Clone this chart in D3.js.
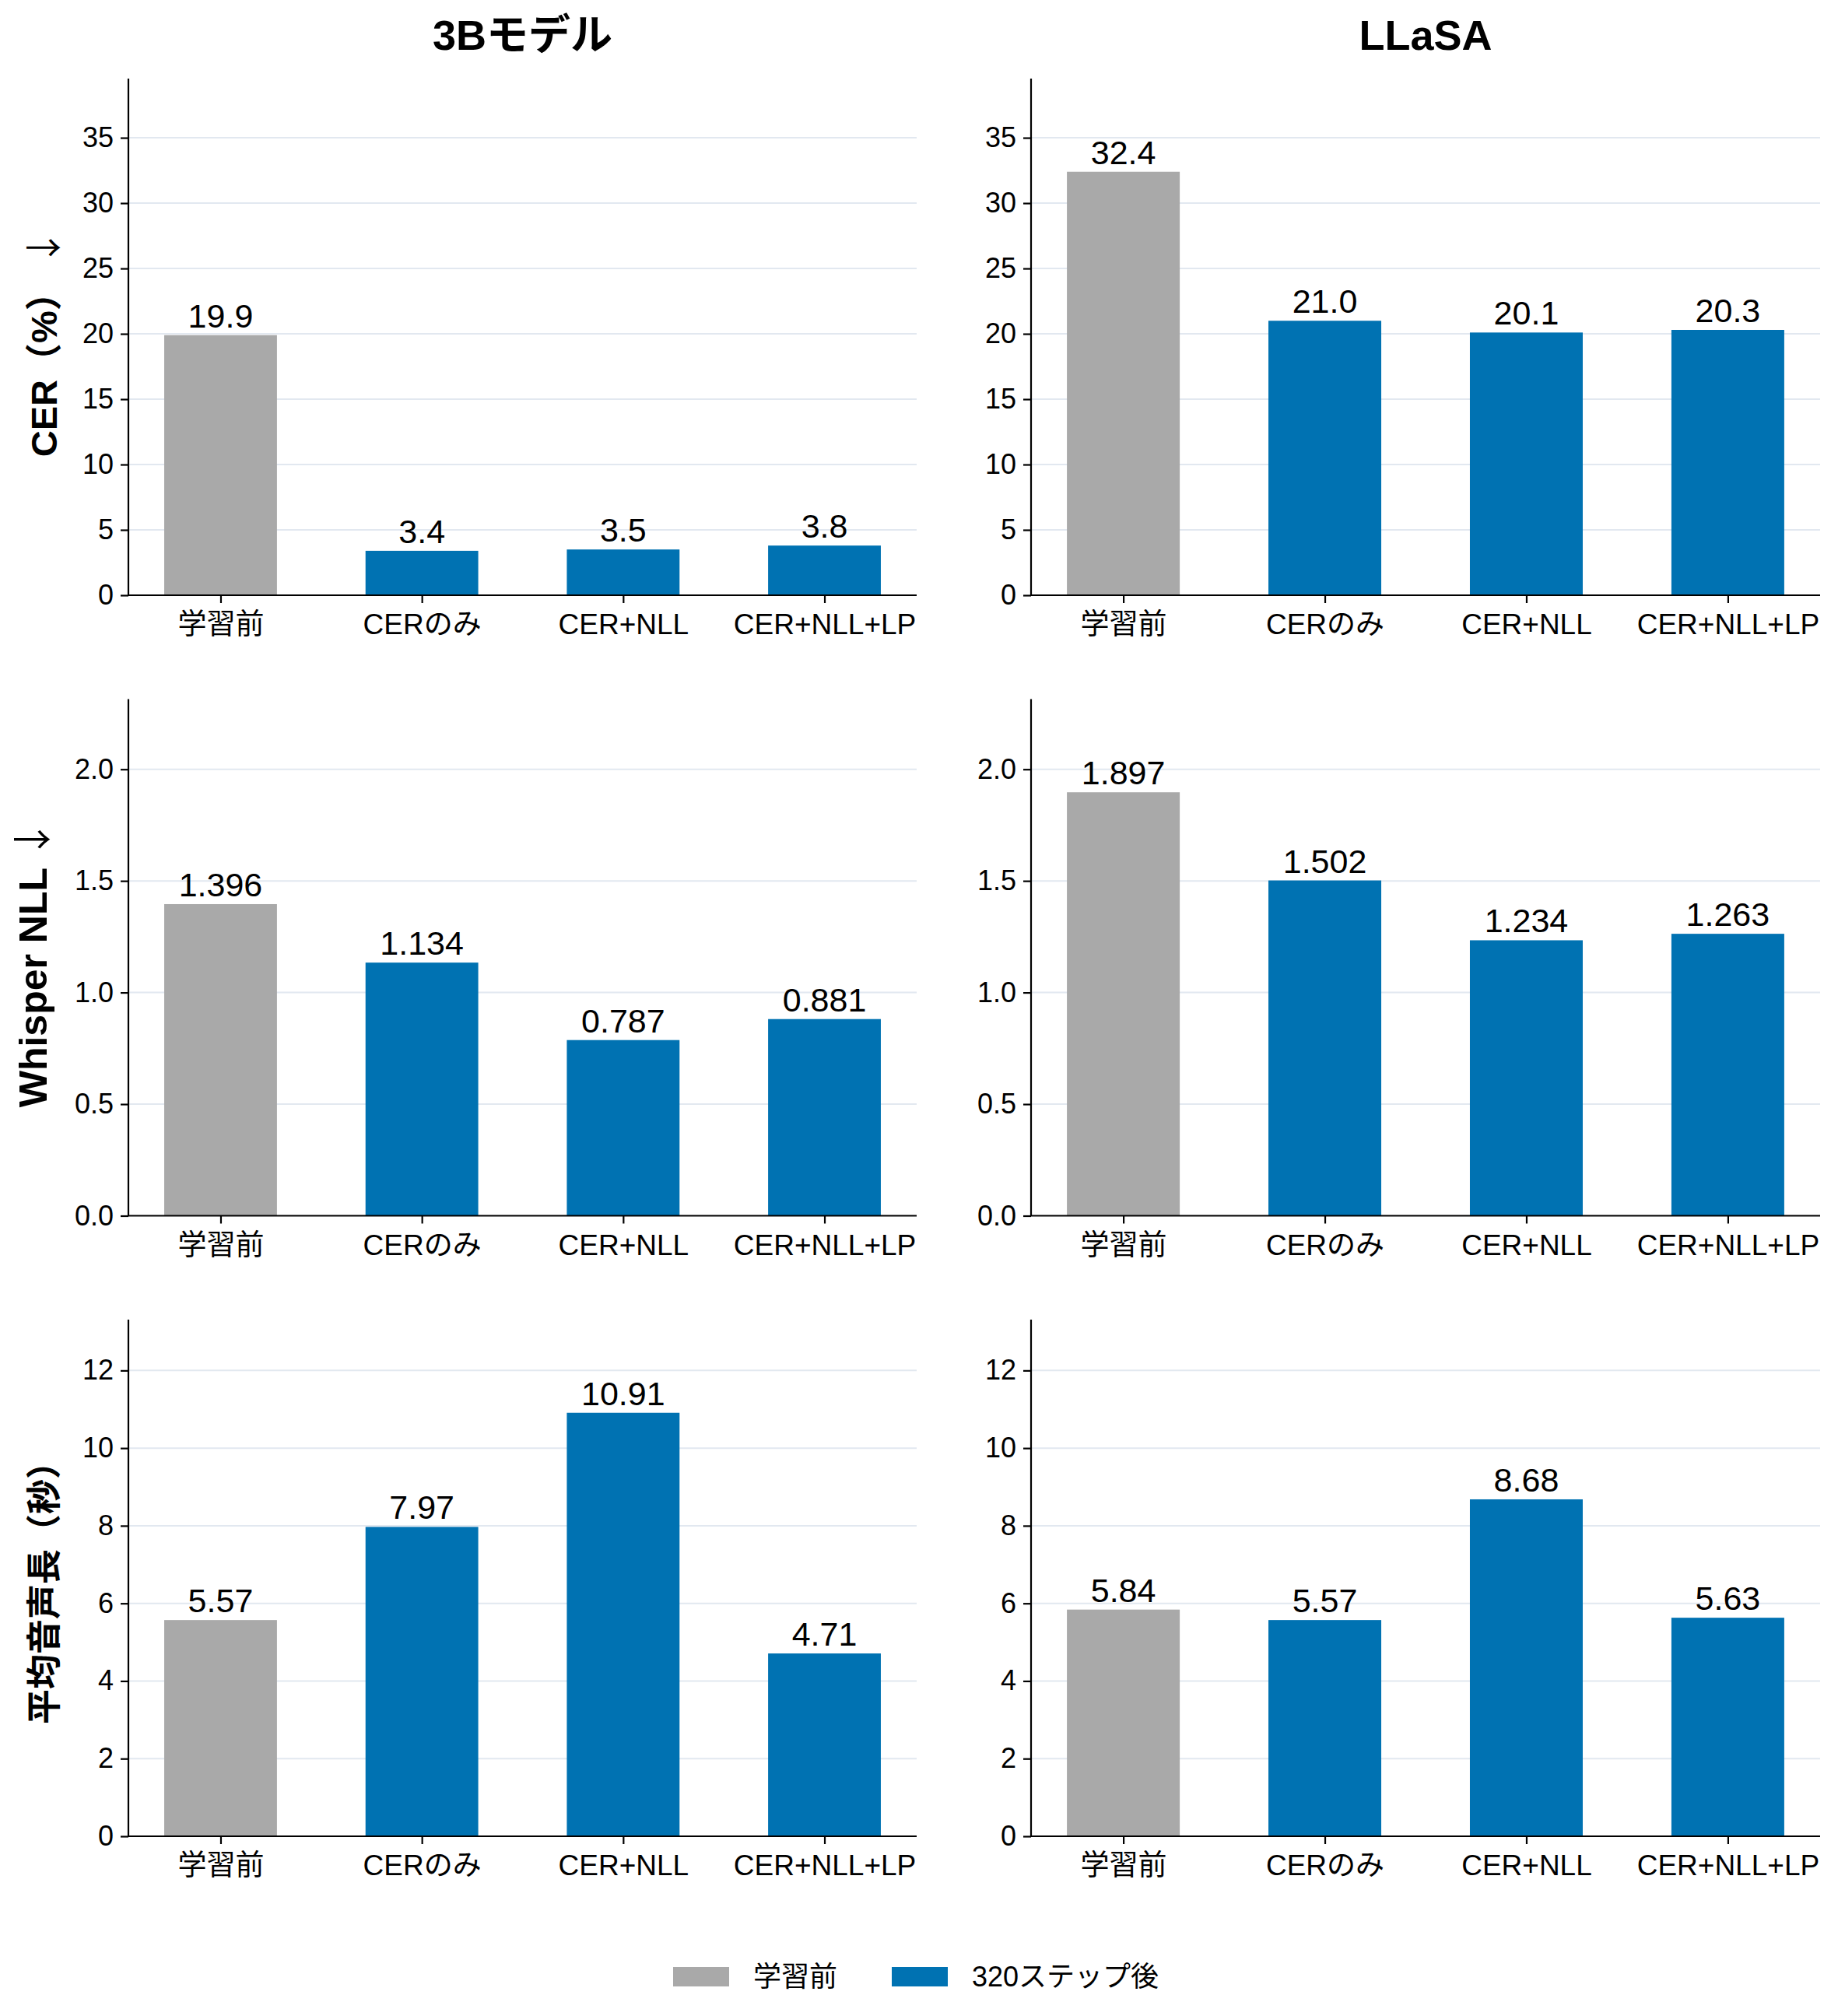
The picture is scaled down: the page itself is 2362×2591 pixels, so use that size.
<!DOCTYPE html>
<html>
<head>
<meta charset="utf-8">
<script src="https://cdn.jsdelivr.net/npm/d3@7"></script>
<style>
  html, body { margin: 0; padding: 0; background: #ffffff; }
  svg text { font-family: "Liberation Sans", "Noto Sans CJK JP", sans-serif; fill: #000; }
</style>
</head>
<body>
<svg id="chart" width="2362" height="2591"></svg>
<script>
// ---- data ----
const categories = ["学習前", "CERのみ", "CER+NLL", "CER+NLL+LP"];
const modelTitles = ["3Bモデル", "LLaSA"];
const cer3B = [19.9, 3.4, 3.5, 3.8];
const cerLLaSA = [32.4, 21.0, 20.1, 20.3];
const nll3B = [1.396, 1.134, 0.787, 0.881];
const nllLLaSA = [1.897, 1.502, 1.234, 1.263];
const dur3B = [5.57, 7.97, 10.91, 4.71];
const durLLaSA = [5.84, 5.57, 8.68, 5.63];
const cerTicks = [0, 5, 10, 15, 20, 25, 30, 35];
const nllTicks = [0.0, 0.5, 1.0, 1.5, 2.0];
const durTicks = [0, 2, 4, 6, 8, 10, 12];
const rowLabels = ["CER（%）", "Whisper NLL", "平均音声長（秒）"];
const rowArrows = ["↓", "↓", ""];
const legendLabels = ["学習前", "320ステップ後"];

// ---- styling ----
const FONT = '"Liberation Sans", "Noto Sans CJK JP", sans-serif';
const colorBefore = "#a9a9a9";
const colorAfter = "#0072b2";
const gridColor = "#e2e8f0";
const rowLabelSize = [47, 50, 45];

const rows = [
  { series: [cer3B, cerLLaSA], ticks: cerTicks, tickFmt: d3.format("d"), valFmt: d3.format(".1f") },
  { series: [nll3B, nllLLaSA], ticks: nllTicks, tickFmt: d3.format(".1f"), valFmt: d3.format(".3f") },
  { series: [dur3B, durLLaSA], ticks: durTicks, tickFmt: d3.format("d"), valFmt: d3.format(".2f") }
];

const colX = [[165, 1178], [1325, 2339]];
const rowTop = [101, 898.5, 1696];
const rowH = 664;
const barWidth = 0.56;

const svg = d3.select("#chart");

rows.forEach((row, ri) => {
  const yMax = d3.max(row.series.flat()) * 1.22;
  const y = d3.scaleLinear().domain([0, yMax]).range([rowTop[ri] + rowH, rowTop[ri]]);
  row.series.forEach((vals, ci) => {
    const x = d3.scaleLinear().domain([-0.458, 3.458]).range(colX[ci]);
    const g = svg.append("g");
    // grid
    g.selectAll("line.grid").data(row.ticks.filter(t => t > 0)).join("line")
      .attr("x1", colX[ci][0]).attr("x2", colX[ci][1])
      .attr("y1", d => y(d)).attr("y2", d => y(d))
      .attr("stroke", gridColor).attr("stroke-width", 2);
    // bars
    g.selectAll("rect.bar").data(vals).join("rect")
      .attr("x", (d, i) => x(i - barWidth / 2))
      .attr("width", (d, i) => x(i + barWidth / 2) - x(i - barWidth / 2))
      .attr("y", d => y(d))
      .attr("height", d => y(0) - y(d))
      .attr("fill", (d, i) => i === 0 ? colorBefore : colorAfter);
    // value labels
    g.selectAll("text.val").data(vals).join("text")
      .attr("x", (d, i) => x(i))
      .attr("y", d => y(d) - 10)
      .attr("text-anchor", "middle")
      .attr("font-size", 43)
      .text(d => row.valFmt(d));
    // y axis
    const yAxis = d3.axisLeft(y).tickValues(row.ticks).tickFormat(row.tickFmt).tickSize(10).tickPadding(9);
    const ya = svg.append("g").attr("transform", `translate(${colX[ci][0]},0)`).call(yAxis);
    ya.select(".domain").attr("stroke", "#000").attr("stroke-width", 2.2)
      .attr("d", `M0,${y(0)}V${y(yMax)}`);
    ya.selectAll(".tick line").attr("stroke", "#000").attr("stroke-width", 2.2);
    ya.selectAll(".tick text").attr("font-size", 36).attr("font-family", FONT).attr("fill", "#000");
    // x axis
    const xAxis = d3.axisBottom(x).tickValues([0, 1, 2, 3]).tickFormat(i => categories[i]).tickSize(10).tickPadding(14);
    const xa = svg.append("g").attr("transform", `translate(0,${y(0)})`).call(xAxis);
    xa.select(".domain").attr("stroke", "#000").attr("stroke-width", 2.2)
      .attr("d", `M${colX[ci][0]},0H${colX[ci][1]}`);
    xa.selectAll(".tick line").attr("stroke", "#000").attr("stroke-width", 2.2);
    xa.selectAll(".tick text").attr("font-size", 37).attr("font-family", FONT).attr("fill", "#000");
  });
  // row label
  const cy = rowTop[ri] + rowH / 2 + 8;
  const bx = ri === 1 ? 60 : 73;
  const t = svg.append("text")
    .attr("transform", `translate(${bx},${cy}) rotate(-90)`)
    .attr("text-anchor", "middle")
    .attr("font-size", rowLabelSize[ri])
    .attr("font-weight", "bold");
  t.append("tspan").text(rowLabels[ri]);
  if (rowArrows[ri]) {
    t.append("tspan").attr("font-weight", "normal").attr("font-family", '"Noto Sans CJK JP", sans-serif').text(" " + rowArrows[ri]);
  }
});

// column titles
modelTitles.forEach((m, ci) => {
  svg.append("text")
    .attr("x", (colX[ci][0] + colX[ci][1]) / 2)
    .attr("y", 64)
    .attr("text-anchor", "middle")
    .attr("font-size", 54)
    .attr("font-weight", "bold")
    .text(m);
});

// legend
const legendColors = [colorBefore, colorAfter];
const legendX = [865, 1146];
legendLabels.forEach((lab, i) => {
  svg.append("rect").attr("x", legendX[i]).attr("y", 2528).attr("width", 72).attr("height", 25)
    .attr("fill", legendColors[i]);
  svg.append("text").attr("x", legendX[i] + 103).attr("y", 2553)
    .attr("font-size", 36).text(lab);
});
</script>
</body>
</html>
